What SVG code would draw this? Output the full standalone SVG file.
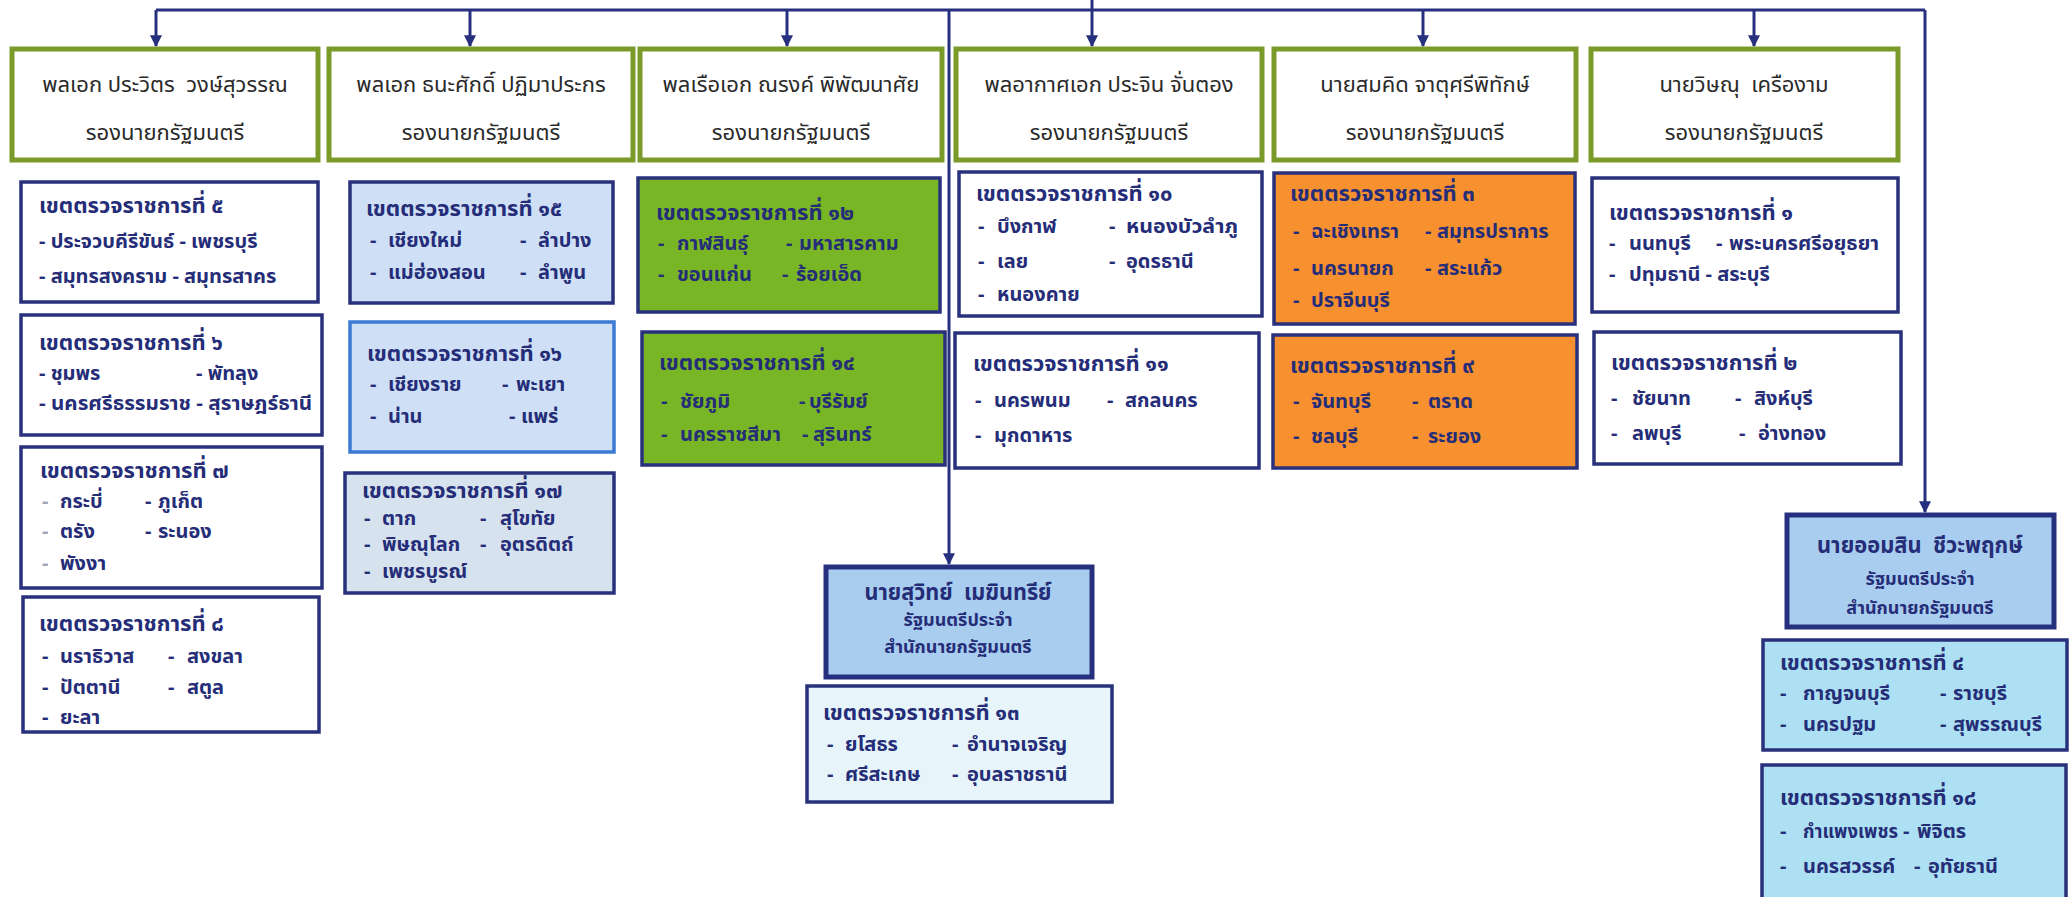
<svg xmlns="http://www.w3.org/2000/svg" width="2069" height="897" viewBox="0 0 2069 897">
<defs>
<marker id="ah" viewBox="0 0 10 10" refX="9" refY="5" markerWidth="4" markerHeight="4.2" orient="auto" markerUnits="strokeWidth">
<path d="M0,0 L10,5 L0,10 z" fill="#27307f"/>
</marker>
<style>
text{font-family:"Noto Sans Thai","Noto Sans","DejaVu Sans",sans-serif;}
.hb{fill:#fff;stroke:#7a9a2a;stroke-width:5;}
.ht{font-size:22px;fill:#2a2a2a;text-anchor:middle;}
.zb{stroke:#29317c;stroke-width:3.5;}
.zt{font-size:22px;font-weight:bold;fill:#252d78;}
.zi{font-size:20px;font-weight:bold;fill:#252d78;}
.gd{fill:#a4a6b8;}
.w{fill:#fff;}
.lb{fill:#cfe0f6;}
.lb2{fill:#d7e2ef;}
.g{fill:#79b625;}
.o{fill:#f7902f;}
.mb{fill:#a9cdef;stroke:#27307f;stroke-width:5;}
.mt{font-size:18px;font-weight:bold;fill:#252d78;text-anchor:middle;}
.mn{font-size:23px;font-weight:bold;fill:#252d78;text-anchor:middle;}
.cy{fill:#ace0f2;}
.pc{fill:#e7f5fa;}
.con{fill:none;stroke:#27307f;stroke-width:3;}
</style>
</defs>

<g id="connectors">
<path class="con" d="M156,10 H1925"/>
<path class="con" d="M1092,0 V10"/>
<path class="con" d="M156,10 V46" marker-end="url(#ah)"/>
<path class="con" d="M470,10 V46" marker-end="url(#ah)"/>
<path class="con" d="M787,10 V46" marker-end="url(#ah)"/>
<path class="con" d="M1092,10 V46" marker-end="url(#ah)"/>
<path class="con" d="M1423,10 V46" marker-end="url(#ah)"/>
<path class="con" d="M1754,10 V46" marker-end="url(#ah)"/>
<path class="con" d="M949,10 V564" marker-end="url(#ah)"/>
<path class="con" d="M1925,10 V512" marker-end="url(#ah)"/>
</g>

<g id="h1"><rect class="hb" x="12" y="49" width="306" height="111"/>
<text class="ht" x="165" y="92">พลเอก ประวิตร&#160; วงษ์สุวรรณ</text><text class="ht" x="165" y="140">รองนายกรัฐมนตรี</text></g>
<g id="h2"><rect class="hb" x="329" y="49" width="304" height="111"/>
<text class="ht" x="481" y="92">พลเอก ธนะศักดิ์ ปฏิมาประกร</text><text class="ht" x="481" y="140">รองนายกรัฐมนตรี</text></g>
<g id="h3"><rect class="hb" x="640" y="49" width="302" height="111"/>
<text class="ht" x="791" y="92">พลเรือเอก ณรงค์ พิพัฒนาศัย</text><text class="ht" x="791" y="140">รองนายกรัฐมนตรี</text></g>
<g id="h4"><rect class="hb" x="956" y="49" width="306" height="111"/>
<text class="ht" x="1109" y="92">พลอากาศเอก ประจิน จั่นตอง</text><text class="ht" x="1109" y="140">รองนายกรัฐมนตรี</text></g>
<g id="h5"><rect class="hb" x="1274" y="49" width="302" height="111"/>
<text class="ht" x="1425" y="92">นายสมคิด จาตุศรีพิทักษ์</text><text class="ht" x="1425" y="140">รองนายกรัฐมนตรี</text></g>
<g id="h6"><rect class="hb" x="1591" y="49" width="307" height="111"/>
<text class="ht" x="1744" y="92">นายวิษณุ&#160; เครืองาม</text><text class="ht" x="1744" y="140">รองนายกรัฐมนตรี</text></g>

<g id="z5"><rect class="zb w" x="21" y="182" width="297" height="120"/>
<text class="zt" x="39" y="213">เขตตรวจราชการที่ ๕</text>
<text class="zi" x="39" y="248">- ประจวบคีรีขันธ์ - เพชรบุรี</text>
<text class="zi" x="39" y="283">- สมุทรสงคราม - สมุทรสาคร</text></g>

<g id="z6"><rect class="zb w" x="21" y="315" width="301" height="120"/>
<text class="zt" x="39" y="350">เขตตรวจราชการที่ ๖</text>
<text class="zi" y="380"><tspan x="39">- ชุมพร</tspan><tspan x="196">- พัทลุง</tspan></text>
<text class="zi" x="39" y="410" textLength="273" lengthAdjust="spacingAndGlyphs">- นครศรีธรรมราช - สุราษฎร์ธานี</text></g>

<g id="z7"><rect class="zb w" x="21" y="447" width="301" height="141"/>
<text class="zt" x="40" y="478">เขตตรวจราชการที่ ๗</text>
<text class="zi" y="508"><tspan class="gd" x="42">-</tspan><tspan x="60">กระบี่</tspan><tspan x="145">-</tspan><tspan x="158">ภูเก็ต</tspan></text>
<text class="zi" y="538"><tspan class="gd" x="42">-</tspan><tspan x="60">ตรัง</tspan><tspan x="145">-</tspan><tspan x="158">ระนอง</tspan></text>
<text class="zi" y="570"><tspan class="gd" x="42">-</tspan><tspan x="60">พังงา</tspan></text></g>

<g id="z8"><rect class="zb w" x="23" y="597" width="296" height="135"/>
<text class="zt" x="39" y="631">เขตตรวจราชการที่ ๘</text>
<text class="zi" y="663"><tspan x="42">-</tspan><tspan x="60">นราธิวาส</tspan><tspan x="168">-</tspan><tspan x="187">สงขลา</tspan></text>
<text class="zi" y="694"><tspan x="42">-</tspan><tspan x="60">ปัตตานี</tspan><tspan x="168">-</tspan><tspan x="187">สตูล</tspan></text>
<text class="zi" y="724"><tspan x="42">-</tspan><tspan x="60">ยะลา</tspan></text></g>

<g id="z15"><rect class="zb lb" x="350" y="182" width="263" height="121"/>
<text class="zt" x="366" y="216">เขตตรวจราชการที่ ๑๕</text>
<text class="zi" y="247"><tspan x="370">-</tspan><tspan x="388">เชียงใหม่</tspan><tspan x="520">-</tspan><tspan x="538">ลำปาง</tspan></text>
<text class="zi" y="279"><tspan x="370">-</tspan><tspan x="388">แม่ฮ่องสอน</tspan><tspan x="520">-</tspan><tspan x="538">ลำพูน</tspan></text></g>

<g id="z16"><rect class="lb" x="350" y="322" width="264" height="130" stroke="#3d7ad2" stroke-width="3.5"/>
<text class="zt" x="367" y="361">เขตตรวจราชการที่ ๑๖</text>
<text class="zi" y="391"><tspan x="370">-</tspan><tspan x="388">เชียงราย</tspan><tspan x="502">-</tspan><tspan x="516">พะเยา</tspan></text>
<text class="zi" y="423"><tspan x="370">-</tspan><tspan x="388">น่าน</tspan><tspan x="509">-</tspan><tspan x="521">แพร่</tspan></text></g>

<g id="z17"><rect class="zb lb2" x="345" y="473" width="269" height="120"/>
<text class="zt" x="362" y="498">เขตตรวจราชการที่ ๑๗</text>
<text class="zi" y="525"><tspan x="364">-</tspan><tspan x="382">ตาก</tspan><tspan x="480">-</tspan><tspan x="500">สุโขทัย</tspan></text>
<text class="zi" y="551"><tspan x="364">-</tspan><tspan x="382">พิษณุโลก</tspan><tspan x="480">-</tspan><tspan x="500">อุตรดิตถ์</tspan></text>
<text class="zi" y="578"><tspan x="364">-</tspan><tspan x="382">เพชรบูรณ์</tspan></text></g>

<g id="z12"><rect class="zb g" x="638" y="178" width="302" height="134"/>
<text class="zt" x="656" y="220">เขตตรวจราชการที่ ๑๒</text>
<text class="zi" y="250"><tspan x="658">-</tspan><tspan x="677">กาฬสินธุ์</tspan><tspan x="786">-</tspan><tspan x="799">มหาสารคาม</tspan></text>
<text class="zi" y="281"><tspan x="658">-</tspan><tspan x="677">ขอนแก่น</tspan><tspan x="782">-</tspan><tspan x="796">ร้อยเอ็ด</tspan></text></g>

<g id="z14"><rect class="zb g" x="642" y="332" width="303" height="133"/>
<text class="zt" x="659" y="370">เขตตรวจราชการที่ ๑๔</text>
<text class="zi" y="408"><tspan x="661">-</tspan><tspan x="680">ชัยภูมิ</tspan><tspan x="799">-</tspan><tspan x="809">บุรีรัมย์</tspan></text>
<text class="zi" y="441"><tspan x="661">-</tspan><tspan x="680">นครราชสีมา</tspan><tspan x="802">-</tspan><tspan x="813">สุรินทร์</tspan></text></g>

<g id="z10"><rect class="zb w" x="959" y="172" width="303" height="144"/>
<text class="zt" x="976" y="201">เขตตรวจราชการที่ ๑๐</text>
<text class="zi" y="233"><tspan x="978">-</tspan><tspan x="997">บึงกาฬ</tspan><tspan x="1109">-</tspan></text>
<text class="zi" x="1126" y="233" textLength="112" lengthAdjust="spacingAndGlyphs">หนองบัวลำภู</text>
<text class="zi" y="268"><tspan x="978">-</tspan><tspan x="997">เลย</tspan><tspan x="1109">-</tspan><tspan x="1126">อุดรธานี</tspan></text>
<text class="zi" y="301"><tspan x="978">-</tspan><tspan x="997">หนองคาย</tspan></text></g>

<g id="z11"><rect class="zb w" x="955" y="333" width="304" height="135"/>
<text class="zt" x="973" y="371">เขตตรวจราชการที่ ๑๑</text>
<text class="zi" y="407"><tspan x="975">-</tspan><tspan x="994">นครพนม</tspan><tspan x="1107">-</tspan><tspan x="1125">สกลนคร</tspan></text>
<text class="zi" y="442"><tspan x="975">-</tspan><tspan x="994">มุกดาหาร</tspan></text></g>

<g id="z3"><rect class="zb o" x="1274" y="173" width="301" height="151"/>
<text class="zt" x="1290" y="201">เขตตรวจราชการที่ ๓</text>
<text class="zi" y="238"><tspan x="1293">-</tspan><tspan x="1311">ฉะเชิงเทรา</tspan><tspan x="1425">-</tspan><tspan x="1437">สมุทรปราการ</tspan></text>
<text class="zi" y="275"><tspan x="1293">-</tspan><tspan x="1311">นครนายก</tspan><tspan x="1425">-</tspan><tspan x="1437">สระแก้ว</tspan></text>
<text class="zi" y="307"><tspan x="1293">-</tspan><tspan x="1311">ปราจีนบุรี</tspan></text></g>

<g id="z9"><rect class="zb o" x="1273" y="335" width="304" height="133"/>
<text class="zt" x="1290" y="373">เขตตรวจราชการที่ ๙</text>
<text class="zi" y="408"><tspan x="1293">-</tspan><tspan x="1311">จันทบุรี</tspan><tspan x="1412">-</tspan><tspan x="1428">ตราด</tspan></text>
<text class="zi" y="443"><tspan x="1293">-</tspan><tspan x="1311">ชลบุรี</tspan><tspan x="1412">-</tspan><tspan x="1428">ระยอง</tspan></text></g>

<g id="z1"><rect class="zb w" x="1592" y="178" width="306" height="134"/>
<text class="zt" x="1609" y="220">เขตตรวจราชการที่ ๑</text>
<text class="zi" y="250"><tspan x="1609">-</tspan><tspan x="1629">นนทบุรี</tspan><tspan x="1716">-</tspan></text>
<text class="zi" x="1729" y="250" textLength="150" lengthAdjust="spacingAndGlyphs">พระนครศรีอยุธยา</text>
<text class="zi" y="281"><tspan x="1609">-</tspan><tspan x="1629">ปทุมธานี - สระบุรี</tspan></text></g>

<g id="z2"><rect class="zb w" x="1594" y="332" width="307" height="132"/>
<text class="zt" x="1611" y="370">เขตตรวจราชการที่ ๒</text>
<text class="zi" y="405"><tspan x="1611">-</tspan><tspan x="1632">ชัยนาท</tspan><tspan x="1735">-</tspan><tspan x="1754">สิงห์บุรี</tspan></text>
<text class="zi" y="440"><tspan x="1611">-</tspan><tspan x="1632">ลพบุรี</tspan><tspan x="1739">-</tspan><tspan x="1758">อ่างทอง</tspan></text></g>

<g id="m1"><rect class="mb" x="826" y="567" width="266" height="110"/>
<text class="mn" x="958" y="600" textLength="187" lengthAdjust="spacingAndGlyphs">นายสุวิทย์&#160; เมฆินทรีย์</text>
<text class="mt" x="958" y="626">รัฐมนตรีประจำ</text>
<text class="mt" x="958" y="653">สำนักนายกรัฐมนตรี</text></g>

<g id="z13"><rect class="zb pc" x="807" y="686" width="305" height="116"/>
<text class="zt" x="823" y="720">เขตตรวจราชการที่ ๑๓</text>
<text class="zi" y="751"><tspan x="827">-</tspan><tspan x="845">ยโสธร</tspan><tspan x="952">-</tspan><tspan x="967">อำนาจเจริญ</tspan></text>
<text class="zi" y="781"><tspan x="827">-</tspan><tspan x="845">ศรีสะเกษ</tspan><tspan x="952">-</tspan><tspan x="967">อุบลราชธานี</tspan></text></g>

<g id="m2"><rect class="mb" x="1787" y="515" width="267" height="112"/>
<text class="mn" x="1920" y="553" textLength="206" lengthAdjust="spacingAndGlyphs">นายออมสิน&#160; ชีวะพฤกษ์</text>
<text class="mt" x="1920" y="585">รัฐมนตรีประจำ</text>
<text class="mt" x="1920" y="614">สำนักนายกรัฐมนตรี</text></g>

<g id="z4"><rect class="zb cy" x="1763" y="640" width="304" height="110"/>
<text class="zt" x="1780" y="670">เขตตรวจราชการที่ ๔</text>
<text class="zi" y="700"><tspan x="1780">-</tspan><tspan x="1803">กาญจนบุรี</tspan><tspan x="1940">-</tspan><tspan x="1953">ราชบุรี</tspan></text>
<text class="zi" y="731"><tspan x="1780">-</tspan><tspan x="1803">นครปฐม</tspan><tspan x="1940">-</tspan><tspan x="1953">สุพรรณบุรี</tspan></text></g>

<g id="z18"><rect class="zb cy" x="1762" y="765" width="304" height="140"/>
<text class="zt" x="1780" y="805">เขตตรวจราชการที่ ๑๘</text>
<text class="zi" y="838"><tspan x="1780">-</tspan><tspan x="1903">-</tspan><tspan x="1917">พิจิตร</tspan></text>
<text class="zi" x="1803" y="838" textLength="95" lengthAdjust="spacingAndGlyphs">กำแพงเพชร</text>
<text class="zi" y="873"><tspan x="1780">-</tspan><tspan x="1803">นครสวรรค์</tspan><tspan x="1914">-</tspan><tspan x="1928">อุทัยธานี</tspan></text></g>
</svg>
